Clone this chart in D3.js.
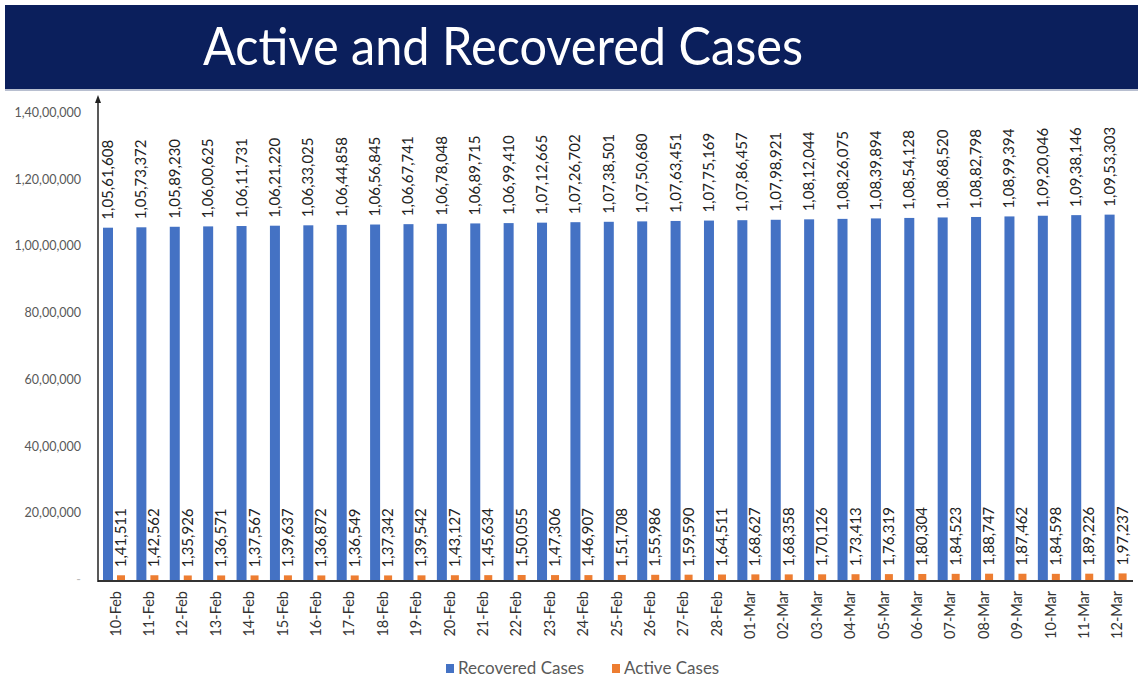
<!DOCTYPE html>
<html>
<head>
<meta charset="utf-8">
<script src="https://cdn.jsdelivr.net/npm/d3@7"></script>
<style>
  body { margin: 0; background: #fff; }
  svg { display: block; }
</style>
</head>
<body>
<script>
const dates = ["10-Feb", "11-Feb", "12-Feb", "13-Feb", "14-Feb", "15-Feb", "16-Feb", "17-Feb",
  "18-Feb", "19-Feb", "20-Feb", "21-Feb", "22-Feb", "23-Feb", "24-Feb", "25-Feb", "26-Feb",
  "27-Feb", "28-Feb", "01-Mar", "02-Mar", "03-Mar", "04-Mar", "05-Mar", "06-Mar", "07-Mar",
  "08-Mar", "09-Mar", "10-Mar", "11-Mar", "12-Mar"];

const recovered = [10561608, 10573372, 10589230, 10600625, 10611731, 10621220, 10633025,
  10644858, 10656845, 10667741, 10678048, 10689715, 10699410, 10712665, 10726702, 10738501,
  10750680, 10763451, 10775169, 10786457, 10798921, 10812044, 10826075, 10839894, 10854128,
  10868520, 10882798, 10899394, 10920046, 10938146, 10953303];

const active = [141511, 142562, 135926, 136571, 137567, 139637, 136872, 136549, 137342,
  139542, 143127, 145634, 150055, 147306, 146907, 151708, 155986, 159590, 164511, 168627,
  168358, 170126, 173413, 176319, 180304, 184523, 188747, 187462, 184598, 189226, 197237];

const yTicks = [0, 2000000, 4000000, 6000000, 8000000, 10000000, 12000000, 14000000];

const seriesNames = ["Recovered Cases", "Active Cases"];
const seriesColors = ["#4472c4", "#ed7d31"];

const W = 1138, H = 679;
const plotLeft = 98, plotRight = 1133, plotBottom = 580, plotTop = 113;

// indian digit grouping: 1,05,61,608
const inr = d3.formatLocale({
  decimal: ".", thousands: ",",
  grouping: [3, 2, 2, 2, 2, 2, 2, 2],
  currency: ["₹", ""]
}).format(",d");

const svg = d3.select("body").append("svg")
  .attr("width", W)
  .attr("height", H)
  .style("font-family", "Lato, 'Open Sans', sans-serif");

// title banner
svg.append("rect")
  .attr("x", 5).attr("y", 88)
  .attr("width", W - 5).attr("height", 3)
  .attr("fill", "#b8bfd0");
svg.append("rect")
  .attr("x", 5).attr("y", 5)
  .attr("width", W - 5).attr("height", 84)
  .attr("fill", "#0b1f5c");
svg.append("text")
  .attr("x", 203).attr("y", 65)
  .attr("fill", "#fff")
  .attr("font-size", 53)
  .attr("textLength", 600)
  .attr("lengthAdjust", "spacingAndGlyphs")
  .text("Active and Recovered Cases");

const x = d3.scaleBand()
  .domain(dates)
  .range([plotLeft, plotRight])
  .paddingInner(0)
  .paddingOuter(0);

const y = d3.scaleLinear()
  .domain([0, 14000000])
  .range([plotBottom, plotTop]);

// y tick labels
svg.append("g")
  .selectAll("text")
  .data(yTicks)
  .join("text")
  .attr("x", 81)
  .attr("y", d => y(d) + 4)
  .attr("text-anchor", "end")
  .attr("font-size", 12.5)
  .attr("fill", d => d === 0 ? "#bbb" : "#595959")
  .text(d => d === 0 ? "-" : inr(d));

const bw = 10, aw = 8;
const g = svg.append("g");

// recovered bars
g.selectAll(".rec")
  .data(dates)
  .join("rect")
  .attr("class", "rec")
  .attr("x", d => x(d) + 5)
  .attr("width", bw)
  .attr("y", (d, i) => y(recovered[i]))
  .attr("height", (d, i) => y(0) - y(recovered[i]))
  .attr("fill", seriesColors[0]);

// active bars
g.selectAll(".act")
  .data(dates)
  .join("rect")
  .attr("class", "act")
  .attr("x", d => x(d) + 19)
  .attr("width", aw)
  .attr("y", (d, i) => y(active[i]))
  .attr("height", (d, i) => y(0) - y(active[i]))
  .attr("fill", seriesColors[1]);

// value labels
g.selectAll(".recLab")
  .data(dates)
  .join("text")
  .attr("class", "recLab")
  .attr("transform", (d, i) => "translate(" + (x(d) + 5 + bw / 2 + 5) + "," + (y(recovered[i]) - 8) + ")rotate(-90)")
  .attr("font-size", 15)
  .attr("fill", "#222")
  .text((d, i) => inr(recovered[i]));

g.selectAll(".actLab")
  .data(dates)
  .join("text")
  .attr("class", "actLab")
  .attr("transform", (d, i) => "translate(" + (x(d) + 19 + aw / 2 + 5) + "," + (y(active[i]) - 8) + ")rotate(-90)")
  .attr("font-size", 15)
  .attr("fill", "#222")
  .text((d, i) => inr(active[i]));

// axes lines
svg.append("line")
  .attr("x1", plotLeft).attr("x2", plotRight)
  .attr("y1", plotBottom + 1).attr("y2", plotBottom + 1)
  .attr("stroke", "#333").attr("stroke-width", 2);
svg.append("line")
  .attr("x1", plotLeft).attr("x2", plotLeft)
  .attr("y1", plotBottom + 2).attr("y2", 100)
  .attr("stroke", "#222").attr("stroke-width", 1.5);
svg.append("path")
  .attr("d", `M${plotLeft - 3},${103} L${plotLeft},${95} L${plotLeft + 3},${103} Z`)
  .attr("fill", "#222");

// x labels
svg.append("g")
  .selectAll("text")
  .data(dates)
  .join("text")
  .attr("transform", d => "translate(" + (x(d) + x.bandwidth() / 2 + 6) + ",591)rotate(-90)")
  .attr("text-anchor", "end")
  .attr("font-size", 14.5)
  .attr("fill", "#333")
  .text(d => d);

// legend
const leg = svg.append("g").attr("transform", "translate(446,674)");
const legX = [0, 166];
seriesNames.forEach((s, i) => {
  leg.append("rect")
    .attr("x", legX[i]).attr("y", -10)
    .attr("width", 8).attr("height", 9)
    .attr("fill", seriesColors[i]);
  leg.append("text")
    .attr("x", legX[i] + 12).attr("y", 0)
    .attr("font-size", 17)
    .attr("fill", "#595959")
    .text(s);
});
</script>
</body>
</html>
